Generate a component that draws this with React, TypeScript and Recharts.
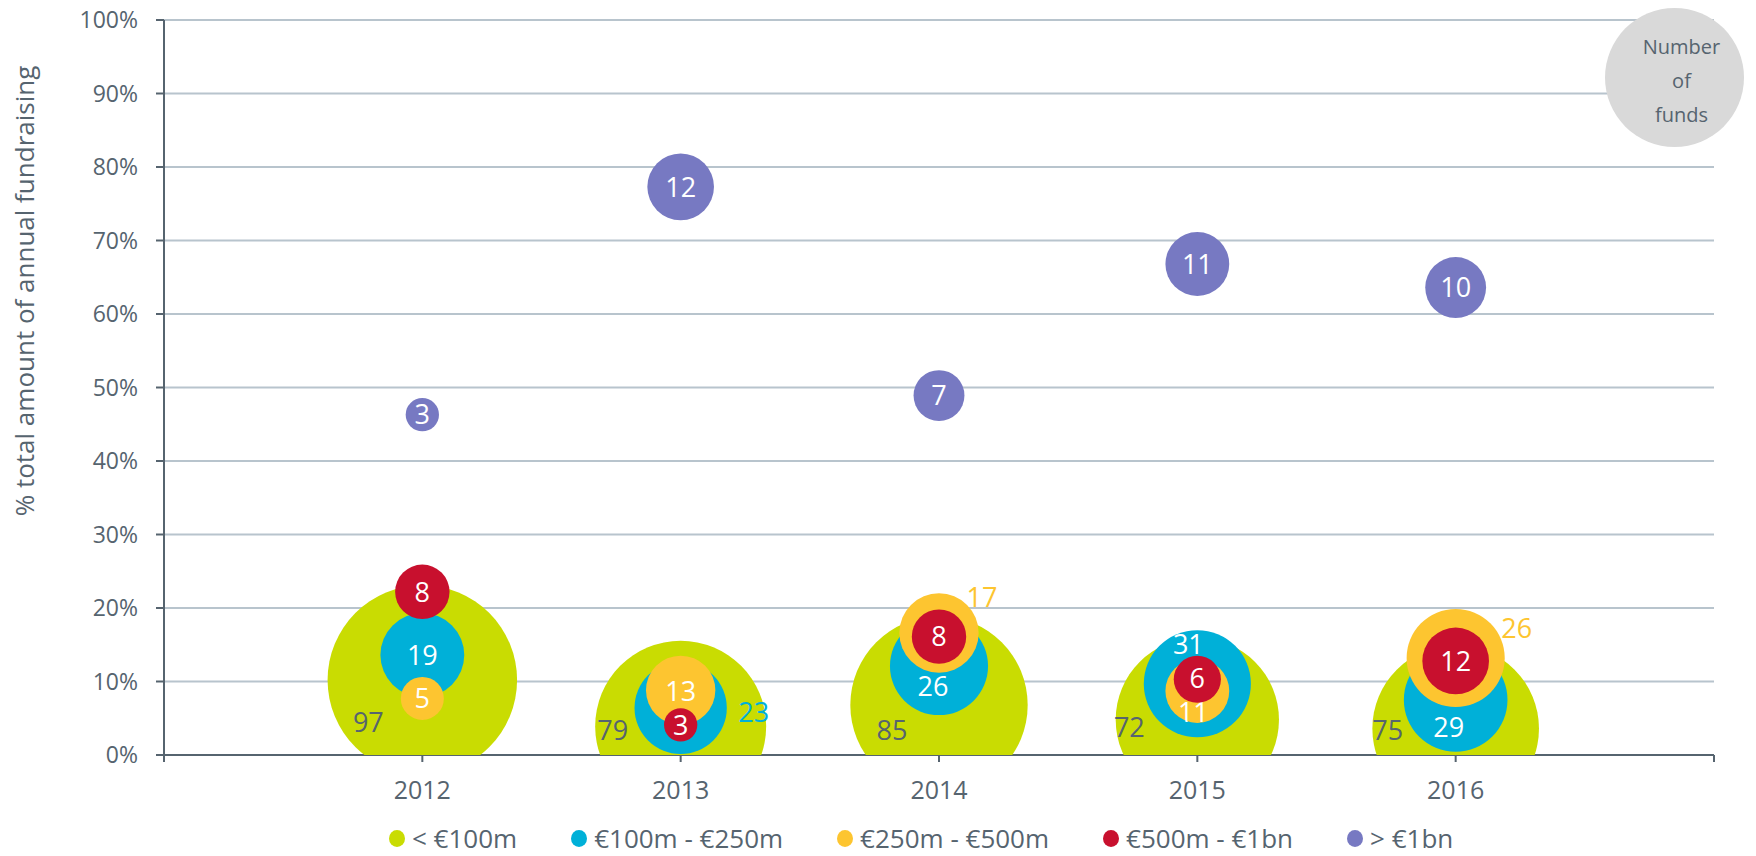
import React from 'react';
import { ScatterChart, Scatter, XAxis, YAxis, ZAxis, CartesianGrid, Legend } from 'recharts';

// ---------- data ----------
const YEARS = [2012, 2013, 2014, 2015, 2016];
const X_TICKS = [2011, 2012, 2013, 2014, 2015, 2016, 2017];
const Y_TICKS = [0, 10, 20, 30, 40, 50, 60, 70, 80, 90, 100];

const SERIES_NAMES = ['< €100m', '€100m - €250m', '€250m - €500m', '€500m - €1bn', '> €1bn'];

// % of total annual fundraising (y) and number of funds (bubble size)
const PCT_LT_100M = [10.2, 3.9, 6.8, 4.8, 3.6];
const FUNDS_LT_100M = [97, 79, 85, 72, 75];

const PCT_100_250M = [13.6, 6.4, 12.1, 9.7, 7.5];
const FUNDS_100_250M = [19, 23, 26, 31, 29];

const PCT_250_500M = [7.7, 8.8, 16.6, 8.7, 13.2];
const FUNDS_250_500M = [5, 13, 17, 11, 26];

const PCT_500M_1BN = [22.2, 4.1, 16.1, 10.3, 12.8];
const FUNDS_500M_1BN = [8, 3, 8, 6, 12];

const PCT_GT_1BN = [46.3, 77.3, 48.9, 66.8, 63.6];
const FUNDS_GT_1BN = [3, 12, 7, 11, 10];

// ---------- styles ----------
const FONT = "'Open Sans', sans-serif";
const TEXT_GRAY = '#56646F';
const AXIS_COLOR = '#56646F';
const GRID_COLOR = '#B8C4CD';
const WHITE = '#FFFFFF';

const C_GREEN = '#C9DC02';
const C_BLUE = '#00B0D8';
const C_YELLOW = '#FDC530';
const C_RED = '#C8102E';
const C_PURPLE = '#7779C2';

// bubble radius per sqrt(fund)
const K = 9.62;

type LabelStyle = { dx: number; dy: number; color: string };

const LABELS_LT_100M: LabelStyle[] = [
  { dx: -54, dy: 42, color: TEXT_GRAY },
  { dx: -68, dy: 4, color: TEXT_GRAY },
  { dx: -47, dy: 25, color: TEXT_GRAY },
  { dx: -68, dy: 8, color: TEXT_GRAY },
  { dx: -68, dy: 2, color: TEXT_GRAY },
];
const LABELS_100_250M: LabelStyle[] = [
  { dx: 0, dy: 0, color: WHITE },
  { dx: 73, dy: 4, color: C_BLUE },
  { dx: -6, dy: 20, color: WHITE },
  { dx: -9, dy: -39, color: WHITE },
  { dx: -7, dy: 27, color: WHITE },
];
const LABELS_250_500M: LabelStyle[] = [
  { dx: 0, dy: 0, color: WHITE },
  { dx: 0, dy: 1, color: WHITE },
  { dx: 43, dy: -36, color: C_YELLOW },
  { dx: -4, dy: 21, color: WHITE },
  { dx: 61, dy: -30, color: C_YELLOW },
];
const LABELS_500M_1BN: LabelStyle[] = [
  { dx: 0, dy: 0, color: WHITE },
  { dx: 0, dy: 0, color: WHITE },
  { dx: 0, dy: 0, color: WHITE },
  { dx: 0, dy: -1, color: WHITE },
  { dx: 0, dy: 0, color: WHITE },
];
const LABELS_GT_1BN: LabelStyle[] = YEARS.map(() => ({ dx: 0, dy: 0, color: WHITE }));

const build = (pct: number[], funds: number[]) =>
  YEARS.map((year, i) => ({ year, pct: pct[i], funds: funds[i], i }));

const DATA_LT_100M = build(PCT_LT_100M, FUNDS_LT_100M);
const DATA_100_250M = build(PCT_100_250M, FUNDS_100_250M);
const DATA_250_500M = build(PCT_250_500M, FUNDS_250_500M);
const DATA_500M_1BN = build(PCT_500M_1BN, FUNDS_500M_1BN);
const DATA_GT_1BN = build(PCT_GT_1BN, FUNDS_GT_1BN);

function bubbleShape(fill: string, labels: LabelStyle[]) {
  return (props: any) => {
    const { cx, cy, width, size, payload } = props;
    const r = width != null && !isNaN(width) ? width / 2 : Math.sqrt(Math.max(size || 0, 0) / Math.PI);
    const lab = labels[payload.i];
    return (
      <g>
        <circle cx={cx} cy={cy} r={r} fill={fill} />
        <text
          x={cx + lab.dx}
          y={cy + lab.dy}
          dy="0.36em"
          textAnchor="middle"
          fill={lab.color}
          fontSize={27}
          fontFamily={FONT}
        >
          {payload.funds}
        </text>
      </g>
    );
  };
}

const renderLegend = (props: any) => {
  const payload = [...(props.payload || [])].sort(
    (a: any, b: any) => SERIES_NAMES.indexOf(a.value) - SERIES_NAMES.indexOf(b.value)
  );
  return (
    <div style={{ display: 'flex', alignItems: 'center', height: 30, paddingLeft: 389, fontFamily: FONT }}>
      {payload.map((p: any, idx: number) => (
        <div key={idx} style={{ display: 'flex', alignItems: 'center', marginRight: 54 }}>
          <span
            style={{
              display: 'inline-block',
              width: 16,
              height: 17,
              borderRadius: '50%',
              background: p.color,
              marginRight: 7,
            }}
          />
          <span style={{ fontSize: 26, color: TEXT_GRAY, lineHeight: '30px' }}>{p.value}</span>
        </div>
      ))}
    </div>
  );
};

const YLabel = () => (
  <text
    transform="translate(34, 291) rotate(-90)"
    textAnchor="middle"
    fill={TEXT_GRAY}
    fontSize={26}
    fontFamily={FONT}
  >
    % total amount of annual fundraising
  </text>
);

export default function App() {
  return (
    <div
      style={{
        position: 'absolute',
        left: 0,
        top: 0,
        width: 1756,
        height: 856,
        background: '#FFFFFF',
        fontFamily: FONT,
      }}
    >
      <ScatterChart width={1756} height={856} margin={{ top: 20, right: 42, bottom: 3, left: 0 }}>
        <CartesianGrid vertical={false} stroke={GRID_COLOR} strokeWidth={2} />
        <XAxis
          type="number"
          dataKey="year"
          domain={[2011, 2017]}
          ticks={X_TICKS}
          interval={0}
          tickFormatter={(v: number) => (v === 2011 || v === 2017 ? '' : String(v))}
          height={68}
          tickSize={7}
          tickMargin={19}
          axisLine={{ stroke: AXIS_COLOR, strokeWidth: 2 }}
          tickLine={{ stroke: AXIS_COLOR, strokeWidth: 2 }}
          tick={{ fill: TEXT_GRAY, fontSize: 25, fontFamily: FONT }}
        />
        <YAxis
          type="number"
          dataKey="pct"
          domain={[0, 100]}
          ticks={Y_TICKS}
          interval={0}
          allowDataOverflow
          width={164}
          tickSize={8}
          tickMargin={18}
          tickFormatter={(v: number) => `${v}%`}
          axisLine={{ stroke: AXIS_COLOR, strokeWidth: 2 }}
          tickLine={{ stroke: AXIS_COLOR, strokeWidth: 2 }}
          tick={{ fill: TEXT_GRAY, fontSize: 23, fontFamily: FONT }}
          label={{ content: () => <YLabel /> }}
        />
        <ZAxis type="number" dataKey="funds" domain={[0, 100]} range={[0, 100 * Math.PI * K * K]} />
        <Legend verticalAlign="bottom" align="left" content={renderLegend} />
        <Scatter name={SERIES_NAMES[0]} data={DATA_LT_100M} fill={C_GREEN} isAnimationActive={false} shape={bubbleShape(C_GREEN, LABELS_LT_100M)} />
        <Scatter name={SERIES_NAMES[1]} data={DATA_100_250M} fill={C_BLUE} isAnimationActive={false} shape={bubbleShape(C_BLUE, LABELS_100_250M)} />
        <Scatter name={SERIES_NAMES[2]} data={DATA_250_500M} fill={C_YELLOW} isAnimationActive={false} shape={bubbleShape(C_YELLOW, LABELS_250_500M)} />
        <Scatter name={SERIES_NAMES[3]} data={DATA_500M_1BN} fill={C_RED} isAnimationActive={false} shape={bubbleShape(C_RED, LABELS_500M_1BN)} />
        <Scatter name={SERIES_NAMES[4]} data={DATA_GT_1BN} fill={C_PURPLE} isAnimationActive={false} shape={bubbleShape(C_PURPLE, LABELS_GT_1BN)} />
      </ScatterChart>
      <div
        style={{
          position: 'absolute',
          left: 1605,
          top: 8,
          width: 139,
          height: 139,
          borderRadius: '50%',
          background: '#D9D9D9',
          color: TEXT_GRAY,
          fontSize: 20,
          lineHeight: '34px',
          textAlign: 'center',
          boxSizing: 'border-box',
          paddingTop: 22,
          paddingLeft: 14,
        }}
      >
        Number
        <br />
        of
        <br />
        funds
      </div>
    </div>
  );
}
